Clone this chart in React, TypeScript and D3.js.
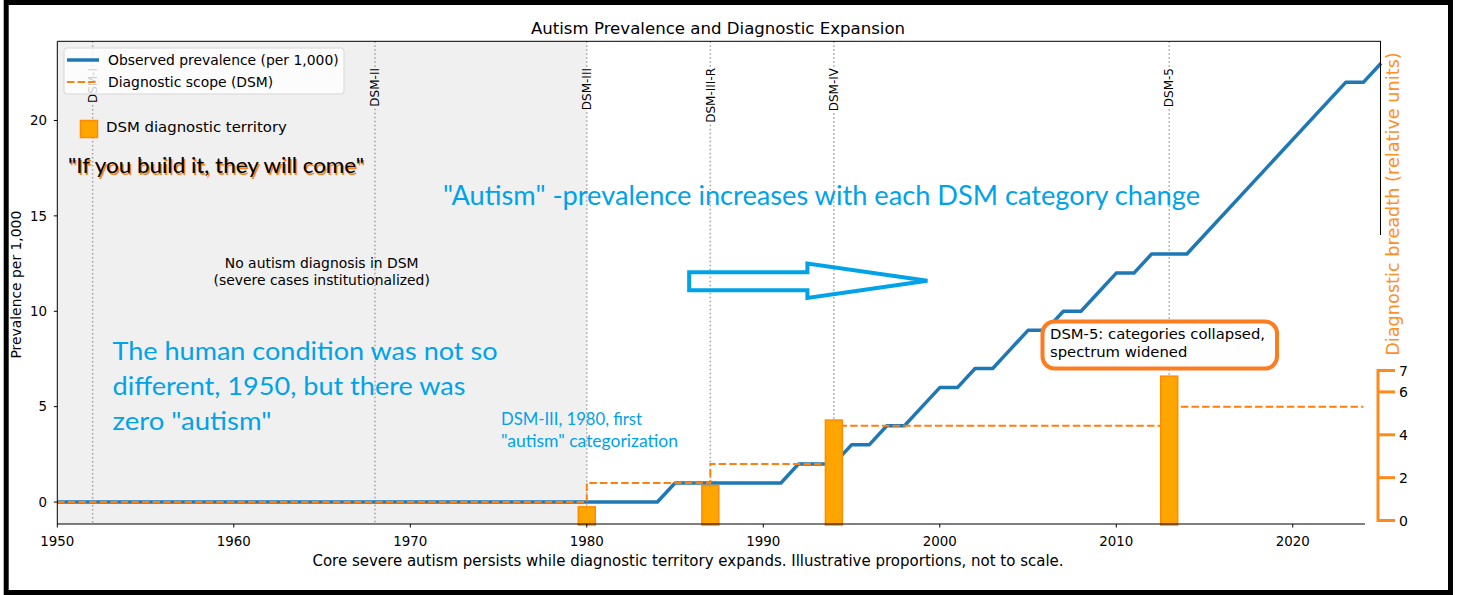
import React, { useEffect, useRef } from 'react';
import * as d3 from 'd3';

// observed prevalence (per 1,000), read at the turning points of the curve
const prevYears = [1950, 1984, 1985, 1991, 1992, 1994, 1995, 1996, 1997, 1998, 1999, 2000, 2001, 2002, 2003, 2004, 2005, 2006, 2007, 2008, 2009, 2010, 2011, 2012, 2014, 2023, 2024, 2025];
const prevValues = [0, 0, 1, 1, 2, 2, 3, 3, 4, 4, 5, 6, 6, 7, 7, 8, 9, 9, 10, 10, 11, 12, 12, 13, 13, 22, 22, 23];

// diagnostic scope (step line)
const scopeYears = [1950, 1980, 1987, 1994, 2013];
const scopeValues = [0, 1, 2, 4, 5];
const scopeEnd = 2024;

// DSM editions
const dsmNames = ['DSM-I', 'DSM-II', 'DSM-III', 'DSM-III-R', 'DSM-IV', 'DSM-5'];
const dsmYears = [1952, 1968, 1980, 1987, 1994, 2013];

// diagnostic territory bars (relative units)
const barYears = [1980, 1987, 1994, 2013];
const barValues = [0.8, 1.8, 4.85, 6.9];

const xTicks = [1950, 1960, 1970, 1980, 1990, 2000, 2010, 2020];
const yTicks = [0, 5, 10, 15, 20];
const breadthTicks = [0, 2, 4, 6, 7];

const BLUE = '#1f77b4';
const ORANGE = '#ff7f0e';
const NOTE = '#00a2e8';
const FONT = '"DejaVu Sans", sans-serif';
const HAND = 'Lato, "Open Sans", sans-serif';

const App = () => {
  const svgRef = useRef<SVGSVGElement>(null);

  useEffect(() => {
    const width = 1460;
    const height = 595;
    const left = 57.3, right = 1381, top = 41.3, bottom = 524;

    const svg = d3.select(svgRef.current);
    svg.selectAll('*').remove();
    svg.attr('width', width).attr('height', height);

    const x = d3.scaleLinear().domain([1950, 2025]).range([left, right]);
    const y = d3.scaleLinear().domain([-1.15, 24.15]).range([bottom, top]);
    const yBar = d3.scaleLinear().domain([0, 7]).range([bottom, bottom - 150]);
    const yBreadth = d3.scaleLinear().domain([0, 7]).range([520.5, 370.5]);

    svg.append('rect').attr('width', width).attr('height', height).attr('fill', '#fff');

    // pre-DSM-III shaded era
    svg.append('rect')
      .attr('x', x(1950)).attr('y', top)
      .attr('width', x(1980) - x(1950)).attr('height', bottom - top)
      .attr('fill', '#f0f0f0');

    const gGrid = svg.append('g');

    // prevalence line
    const line = d3.line<number>()
      .x((d, i) => x(prevYears[i]))
      .y(d => y(d));
    svg.append('path')
      .attr('d', line(prevValues))
      .attr('fill', 'none')
      .attr('stroke', BLUE)
      .attr('stroke-width', 3.5)
      .attr('stroke-linejoin', 'round');

    // scope step line
    const scopeX = [...scopeYears, scopeEnd];
    const scopeY = [...scopeValues, scopeValues[scopeValues.length - 1]];
    const step = d3.line<number>()
      .x((d, i) => x(scopeX[i]))
      .y(d => y(d))
      .curve(d3.curveStepAfter);
    svg.append('path')
      .attr('d', step(scopeY))
      .attr('fill', 'none')
      .attr('stroke', ORANGE)
      .attr('stroke-width', 2)
      .attr('stroke-dasharray', '7.4,3.2');

    // territory bars
    svg.append('g').selectAll('rect')
      .data(barValues)
      .enter()
      .append('rect')
      .attr('x', (d, i) => x(barYears[i] - 0.48))
      .attr('width', x(1950.96) - x(1950))
      .attr('y', d => yBar(d))
      .attr('height', d => yBar(0) - yBar(d) + 1)
      .attr('fill', '#ffa500')
      .attr('stroke', '#ff8c00')
      .attr('stroke-width', 1.5);

    // spines
    const spine = svg.append('g').attr('stroke', '#000').attr('stroke-width', 1);
    spine.append('line').attr('x1', left).attr('x2', left).attr('y1', top).attr('y2', bottom);
    spine.append('line').attr('x1', left).attr('x2', right).attr('y1', top).attr('y2', top);
    spine.append('line').attr('x1', left).attr('x2', 1365).attr('y1', bottom).attr('y2', bottom);
    spine.append('line').attr('x1', right - 0.5).attr('x2', right - 0.5).attr('y1', top).attr('y2', 235);

    // x axis
    const gx = svg.append('g');
    xTicks.forEach(t => {
      gx.append('line').attr('x1', x(t)).attr('x2', x(t)).attr('y1', bottom).attr('y2', bottom + 3.5).attr('stroke', '#000');
      gx.append('text').attr('x', x(t)).attr('y', 546).attr('text-anchor', 'middle')
        .attr('font-family', FONT).attr('font-size', 13.4).text(t);
    });
    // y axis
    const gy = svg.append('g');
    yTicks.forEach(t => {
      gy.append('line').attr('x1', left - 3.5).attr('x2', left).attr('y1', y(t)).attr('y2', y(t)).attr('stroke', '#000');
      gy.append('text').attr('x', 47).attr('y', y(t)).attr('dy', '0.35em').attr('text-anchor', 'end')
        .attr('font-family', FONT).attr('font-size', 13.4).text(t);
    });

    svg.append('text')
      .attr('transform', `translate(16, ${(top + bottom) / 2 + 2}) rotate(-90)`)
      .attr('dy', '0.35em').attr('text-anchor', 'middle')
      .attr('font-family', FONT).attr('font-size', 13.9)
      .text('Prevalence per 1,000');

    svg.append('text')
      .attr('x', 688).attr('y', 566).attr('text-anchor', 'middle')
      .attr('font-family', FONT).attr('font-size', 15)
      .text('Core severe autism persists while diagnostic territory expands. Illustrative proportions, not to scale.');

    svg.append('text')
      .attr('x', 718).attr('y', 34).attr('text-anchor', 'middle')
      .attr('font-family', FONT).attr('font-size', 16.6)
      .text('Autism Prevalence and Diagnostic Expansion');

    // secondary breadth axis
    const ORANGE2 = '#ff8a1c';
    const gb = svg.append('g');
    gb.append('line').attr('x1', 1378).attr('x2', 1378)
      .attr('y1', yBreadth(7) - 1.5).attr('y2', yBreadth(0) + 1.5)
      .attr('stroke', ORANGE2).attr('stroke-width', 3);
    breadthTicks.forEach(t => {
      gb.append('line').attr('x1', 1378).attr('x2', 1395).attr('y1', yBreadth(t)).attr('y2', yBreadth(t))
        .attr('stroke', ORANGE2).attr('stroke-width', 3);
      gb.append('text').attr('x', 1399).attr('y', yBreadth(t)).attr('dy', '0.36em')
        .attr('font-family', FONT).attr('font-size', 14).text(t);
    });
    svg.append('text')
      .attr('transform', 'translate(1393, 204) rotate(-90)')
      .attr('dy', '0.35em').attr('text-anchor', 'middle')
      .attr('font-family', FONT).attr('font-size', 17.7).attr('fill', '#ff8f1f')
      .text('Diagnostic breadth (relative units)');

    // DSM edition labels + dotted guide lines broken around them
    const labelTop = 68;
    dsmNames.forEach((name, i) => {
      const lx = x(dsmYears[i]);
      const t = svg.append('text')
        .attr('transform', `translate(${lx}, ${labelTop}) rotate(-90)`)
        .attr('dy', '0.35em').attr('text-anchor', 'end')
        .attr('font-family', FONT).attr('font-size', 12)
        .text(name);
      const len = (t.node() as SVGTextElement).getComputedTextLength();
      const seg = [[top, labelTop - 1], [labelTop + len + 2, bottom]];
      seg.forEach(([a, b]) => {
        gGrid.append('line')
          .attr('x1', lx).attr('x2', lx).attr('y1', a).attr('y2', b)
          .attr('stroke', '#a0a0a0').attr('stroke-width', 1.5)
          .attr('stroke-dasharray', '1.5,2.5');
      });
    });

    // legend
    const lg = svg.append('g');
    lg.append('rect').attr('x', 64).attr('y', 48).attr('width', 280).attr('height', 46).attr('rx', 3)
      .attr('fill', '#fff').attr('fill-opacity', 0.8).attr('stroke', '#d6d6d6');
    lg.append('line').attr('x1', 67).attr('x2', 99).attr('y1', 60).attr('y2', 60)
      .attr('stroke', BLUE).attr('stroke-width', 3.5);
    lg.append('line').attr('x1', 67).attr('x2', 99).attr('y1', 82).attr('y2', 82)
      .attr('stroke', ORANGE).attr('stroke-width', 2).attr('stroke-dasharray', '7.4,3.2');
    lg.append('text').attr('x', 108).attr('y', 60).attr('dy', '0.35em')
      .attr('font-family', FONT).attr('font-size', 13.9).text('Observed prevalence (per 1,000)');
    lg.append('text').attr('x', 108).attr('y', 82).attr('dy', '0.35em')
      .attr('font-family', FONT).attr('font-size', 13.9).text('Diagnostic scope (DSM)');

    lg.append('rect').attr('x', 80.5).attr('y', 120.5).attr('width', 17).attr('height', 17)
      .attr('fill', '#ffa500').attr('stroke', '#ff8c00').attr('stroke-width', 1.5);
    lg.append('text').attr('x', 106).attr('y', 132)
      .attr('font-family', FONT).attr('font-size', 14.9).text('DSM diagnostic territory');

    // notes
    const quote = '"If you build it, they will come"';
    svg.append('text').attr('x', 69.5).attr('y', 175).attr('font-family', HAND).attr('font-size', 22)
      .attr('fill', ORANGE).attr('textLength', 296).attr('lengthAdjust', 'spacingAndGlyphs').text(quote);
    svg.append('text').attr('x', 68).attr('y', 173).attr('font-family', HAND).attr('font-size', 22)
      .attr('fill', '#000').attr('textLength', 296).attr('lengthAdjust', 'spacingAndGlyphs').text(quote);

    svg.append('text').attr('x', 443).attr('y', 205).attr('font-family', HAND).attr('font-size', 27)
      .attr('fill', NOTE).attr('textLength', 757).attr('lengthAdjust', 'spacingAndGlyphs')
      .text('"Autism" -prevalence increases with each DSM category change');

    const human = ['The human condition was not so', 'different, 1950, but there was', 'zero "autism"'];
    const humanW = [385, 353, 159];
    human.forEach((s, i) => {
      svg.append('text').attr('x', 112.5).attr('y', 360 + i * 35).attr('font-family', HAND).attr('font-size', 25.5)
        .attr('fill', NOTE).attr('textLength', humanW[i]).attr('lengthAdjust', 'spacingAndGlyphs').text(s);
    });

    const first = ['DSM-III, 1980, first', '"autism" categorization'];
    const firstW = [141, 177];
    first.forEach((s, i) => {
      svg.append('text').attr('x', 501).attr('y', 425 + i * 21.7).attr('font-family', HAND).attr('font-size', 16.5)
        .attr('fill', NOTE).attr('textLength', firstW[i]).attr('lengthAdjust', 'spacingAndGlyphs').text(s);
    });

    ['No autism diagnosis in DSM', '(severe cases institutionalized)'].forEach((s, i) => {
      svg.append('text').attr('x', 321.7).attr('y', 268.3 + i * 16.5).attr('text-anchor', 'middle')
        .attr('font-family', FONT).attr('font-size', 13.9).text(s);
    });

    // hollow arrow
    const arrowPts: [number, number][] = [
      [1985.8, 12.05], [1992.5, 12.05], [1992.5, 12.5], [1999.3, 11.6],
      [1992.5, 10.7], [1992.5, 11.1], [1985.8, 11.1],
    ];
    svg.append('path')
      .attr('d', 'M' + arrowPts.map(p => `${x(p[0])},${y(p[1])}`).join('L') + 'Z')
      .attr('fill', 'none').attr('stroke', NOTE).attr('stroke-width', 4).attr('stroke-linejoin', 'miter');

    // DSM-5 callout
    svg.append('rect').attr('x', 1042.5).attr('y', 321.5).attr('width', 234.5).attr('height', 47).attr('rx', 12)
      .attr('fill', '#fff').attr('stroke', '#fb7d22').attr('stroke-width', 4);
    ['DSM-5: categories collapsed,', 'spectrum widened'].forEach((s, i) => {
      svg.append('text').attr('x', 1050).attr('y', 339.3 + i * 17.4)
        .attr('font-family', FONT).attr('font-size', 14.8).text(s);
    });

    // outer frame
    svg.append('rect').attr('x', 6.2).attr('y', 2.5).attr('width', 1444.3).attr('height', 590)
      .attr('fill', 'none').attr('stroke', '#000').attr('stroke-width', 5);

    return () => {
      d3.select(svgRef.current).selectAll('*').remove();
    };
  }, []);

  return (
    <svg ref={svgRef} style={{ position: 'absolute', left: 0, top: 0, display: 'block' }} />
  );
};

export default App;
